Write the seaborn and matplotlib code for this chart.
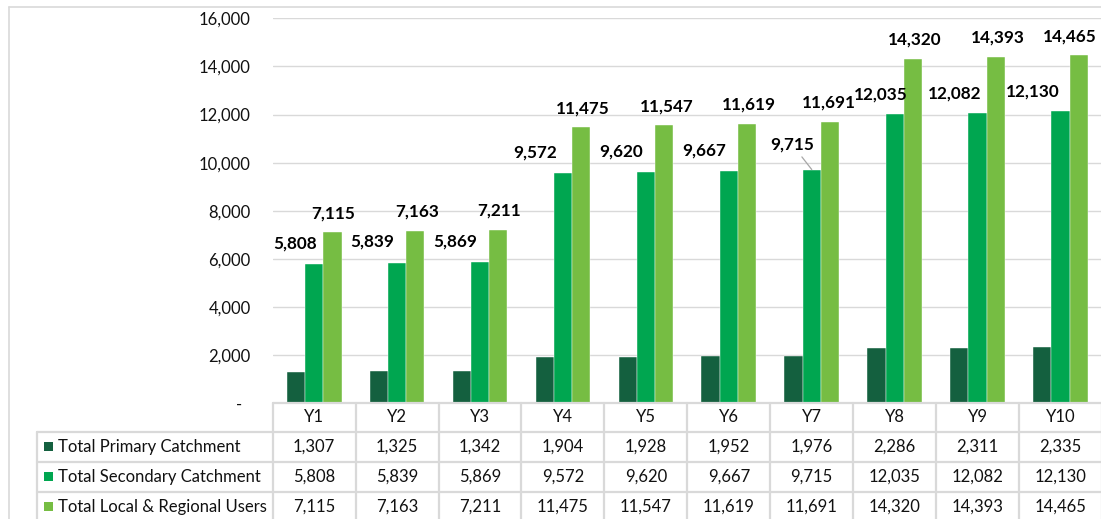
import matplotlib
matplotlib.use("Agg")
import matplotlib.pyplot as plt
import matplotlib.transforms as mtransforms
from matplotlib.lines import Line2D
from matplotlib.patches import Rectangle
import seaborn as sns
import pandas as pd

# ---- data -------------------------------------------------------------
years = ["Y1", "Y2", "Y3", "Y4", "Y5", "Y6", "Y7", "Y8", "Y9", "Y10"]
series_names = ["Total Primary Catchment",
                "Total Secondary Catchment",
                "Total Local & Regional Users"]
primary = [1307, 1325, 1342, 1904, 1928, 1952, 1976, 2286, 2311, 2335]
secondary = [5808, 5839, 5869, 9572, 9620, 9667, 9715, 12035, 12082, 12130]
local_regional = [7115, 7163, 7211, 11475, 11547, 11619, 11691, 14320, 14393, 14465]
y_ticks = [0, 2000, 4000, 6000, 8000, 10000, 12000, 14000, 16000]

# ---- styling ----------------------------------------------------------
colors = ["#14603F", "#00A650", "#76BD43"]
grid_col = "#D9D9D9"
text_col = "#111111"
fs = 12
fs_lab = 12.3

# nudges (pixels) for the value labels
mid_dx = [-19.5, -24.5, -24.5, -28, -25, -25, -19.5, -14, -23, -28]
mid_dy = [20, 21, 21, 20, 20, 20, 25, 19, 19, 20]
mid_leader = [False, False, False, False, False, False, True, False, False, False]
top_dx = [1, 2, 1, 2, 3, 2, -1, 2, 2, -9]
top_dy = 19

sns.set_theme(style="white")
plt.rcParams["font.family"] = ["Lato", "DejaVu Sans"]

W, H = 1101, 519
fig = plt.figure(figsize=(W / 100, H / 100), dpi=100)


def fx(px):
    return px / W


def fy(py):
    return 1 - py / H


ax = fig.add_axes([fx(272.7), fy(403.3), (1102 - 272.7) / W, (403.3 - 18.3) / H])

df = pd.DataFrame({
    "year": years * 3,
    "series": [s for s in series_names for _ in years],
    "value": primary + secondary + local_regional,
})

sns.barplot(data=df, x="year", y="value", hue="series", hue_order=series_names,
            palette=colors, saturation=1, width=0.66, ax=ax, legend=False,
            edgecolor="white", linewidth=0.3)

ax.set_xlim(-0.5, len(years) - 0.5)
ax.set_ylim(0, 16000)
ax.set_yticks(y_ticks)
ax.set_yticklabels([f"{v:,}" if v else "-  " for v in y_ticks],
                   fontsize=fs, color=text_col)
ax.tick_params(axis="y", length=0, pad=15.8)
ax.set_xticks([])
ax.set_xlabel("")
ax.set_ylabel("")
ax.grid(axis="y", color=grid_col, linewidth=1)
ax.set_axisbelow(True)
for sp in ax.spines.values():
    sp.set_visible(False)

# ---- value labels -----------------------------------------------------
for i, (bar, val) in enumerate(zip(ax.containers[1], secondary)):
    x = bar.get_x() + bar.get_width() / 2
    kw = {}
    if mid_leader[i]:
        kw["arrowprops"] = dict(arrowstyle="-", color="#A6A6A6", lw=0.9,
                                shrinkA=1, shrinkB=0)
    ax.annotate(f"{val:,}", (x, bar.get_height()), xytext=(mid_dx[i], mid_dy[i]),
                textcoords="offset pixels", ha="center", va="center",
                fontsize=fs_lab, fontweight="bold", color="black", **kw)

for i, (bar, val) in enumerate(zip(ax.containers[2], local_regional)):
    x = bar.get_x() + bar.get_width() / 2
    ax.annotate(f"{val:,}", (x, bar.get_height()), xytext=(top_dx[i], top_dy),
                textcoords="offset pixels", ha="center", va="center",
                fontsize=fs_lab, fontweight="bold", color="black")

# ---- data table -------------------------------------------------------
tr = mtransforms.blended_transform_factory(ax.transData, fig.transFigure)
header_y = (403.3, 431.7)
row_edges = [431.7, 461.7, 491.7, 521.7]
row_centers = [(a + b) / 2 for a, b in zip(row_edges[:-1], row_edges[1:])]
lw_tab = 1.6

# column borders
for i in range(len(years) + 1):
    fig.add_artist(Line2D([i - 0.5, i - 0.5], [fy(header_y[0]), fy(530)],
                          transform=tr, color=grid_col, lw=lw_tab))
# header top
fig.add_artist(Line2D([-0.5, len(years) - 0.5], [fy(header_y[0])] * 2,
                      transform=tr, color=grid_col, lw=lw_tab))
# row borders incl. legend column
for yy in row_edges:
    fig.add_artist(Line2D([fx(36.7), 1.01], [fy(yy)] * 2,
                          transform=fig.transFigure, color=grid_col, lw=lw_tab))
fig.add_artist(Line2D([fx(36.7), fx(36.7)], [fy(row_edges[0]), fy(530)],
                      transform=fig.transFigure, color=grid_col, lw=lw_tab))

for i, yr in enumerate(years):
    fig.text(i, fy(sum(header_y) / 2), yr, transform=tr, ha="center",
             va="center", fontsize=fs, color=text_col)

for name, col, vals, yc in zip(series_names, colors,
                               [primary, secondary, local_regional], row_centers):
    fig.add_artist(Rectangle((fx(44), fy(yc + 4.5)), 9 / W, 9 / H,
                             transform=fig.transFigure, color=col, lw=0))
    fig.text(fx(58.3), fy(yc), name, ha="left", va="center",
             fontsize=fs, color=text_col)
    for i, v in enumerate(vals):
        fig.text(i, fy(yc), f"{v:,}", transform=tr, ha="center", va="center",
                 fontsize=fs, color=text_col)

# chart frame
fig.add_artist(Line2D([fx(9.3), 1.01], [fy(6.7)] * 2, transform=fig.transFigure,
                      color=grid_col, lw=1.2))
fig.add_artist(Line2D([fx(9.3)] * 2, [fy(6.7), -0.01], transform=fig.transFigure,
                      color=grid_col, lw=1.2))

fig.savefig("out.png", dpi=100)
